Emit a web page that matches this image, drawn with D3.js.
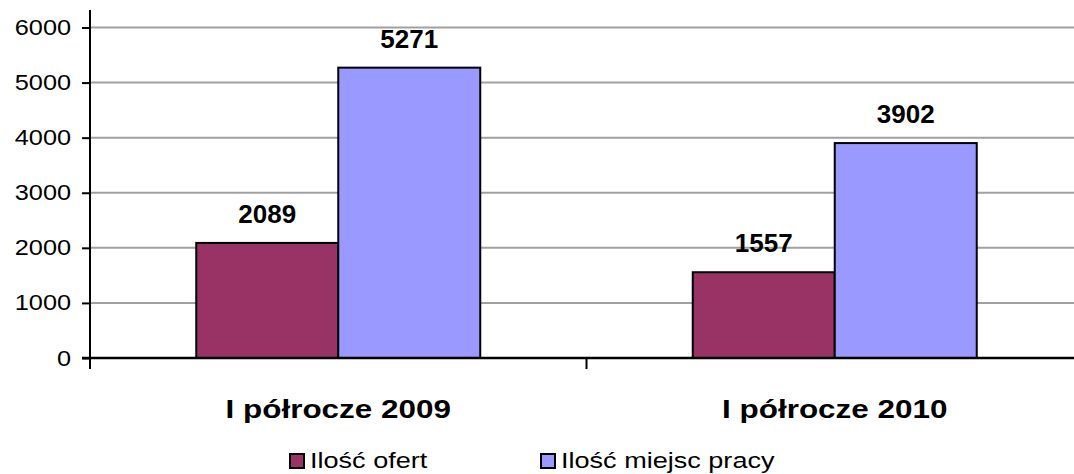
<!DOCTYPE html>
<html><head><meta charset="utf-8">
<script src="https://cdn.jsdelivr.net/npm/d3@7"></script>
<style>
html,body{margin:0;padding:0;background:#fff;overflow:hidden}
text{font-family:"Liberation Sans",Arial,sans-serif;fill:#000}
</style></head>
<body><svg id="c" width="1074" height="474"></svg>
<script>
const categories = ["I półrocze 2009", "I półrocze 2010"];
const seriesNames = ["Ilość ofert", "Ilość miejsc pracy"];
const ofertValues = [2089, 1557];
const miejscValues = [5271, 3902];
const yTicks = [0, 1000, 2000, 3000, 4000, 5000, 6000];
const colors = ["#993366", "#9999FF"];

const svg = d3.select("#c");
const x0 = 90, x1 = 1083, yTop = 27.5, yBot = 358;
const y = d3.scaleLinear().domain([0, 6000]).range([yBot, yTop]);
const xb = d3.scaleBand().domain(categories).range([x0, x1]).paddingInner(0.428).paddingOuter(0.214);
const xs = d3.scaleBand().domain(seriesNames).range([0, xb.bandwidth()]);

// gridlines
svg.append("g").selectAll("line").data(yTicks.filter(d => d > 0)).join("line")
  .attr("x1", x0).attr("x2", 1074).attr("y1", d => y(d)).attr("y2", d => y(d))
  .attr("stroke", "#a0a0a0").attr("stroke-width", 2);

// y axis
const tickSX = 1.15;
const yAxis = d3.axisLeft(y).tickValues(yTicks).tickSize(8).tickPadding(11).tickFormat(d3.format("d"));
const ga = svg.append("g").attr("transform", `translate(${x0},0)`).call(yAxis);
ga.select(".domain").remove();
ga.selectAll(".tick line").attr("stroke", "#000").attr("stroke-width", 2);
ga.selectAll(".tick text").attr("font-size", 22).attr("font-family", "Liberation Sans, Arial, sans-serif").attr("fill", "#000")
  .attr("x", -19 / tickSX).attr("transform", `scale(${tickSX},1)`);
svg.append("line").attr("x1", x0).attr("x2", x0).attr("y1", 10).attr("y2", 369).attr("stroke", "#000").attr("stroke-width", 2);

// bars
const data = categories.map((c, i) => ({c, vals: [ofertValues[i], miejscValues[i]]}));
const groups = svg.append("g").selectAll("g").data(data).join("g")
  .attr("transform", d => `translate(${xb(d.c)},0)`);
groups.selectAll("rect").data(d => d.vals.map((v, j) => ({v, s: seriesNames[j], j}))).join("rect")
  .attr("x", d => xs(d.s)).attr("width", xs.bandwidth())
  .attr("y", d => y(d.v)).attr("height", d => y(0) - y(d.v))
  .attr("fill", d => colors[d.j]).attr("stroke", "#000").attr("stroke-width", 2);
groups.selectAll("text").data(d => d.vals.map((v, j) => ({v, s: seriesNames[j], j}))).join("text")
  .attr("x", d => xs(d.s) + xs.bandwidth() / 2).attr("y", d => y(d.v) - 20)
  .attr("text-anchor", "middle").attr("font-size", 26).attr("font-weight", "bold").text(d => d.v);

// x axis
svg.append("line").attr("x1", 82).attr("x2", 1074).attr("y1", yBot).attr("y2", yBot).attr("stroke", "#000").attr("stroke-width", 2.5);
const bounds = [x0, (xb(categories[0]) + xb.bandwidth() + xb(categories[1])) / 2];
svg.append("g").selectAll("line").data(bounds).join("line")
  .attr("x1", d => d).attr("x2", d => d).attr("y1", yBot).attr("y2", 369).attr("stroke", "#000").attr("stroke-width", 2);

// category labels
svg.append("g").selectAll("text").data(categories).join("text")
  .attr("transform", d => `translate(${xb(d) + xb.bandwidth() / 2},418) scale(1.21,1)`)
  .attr("text-anchor", "middle").attr("font-size", 26).attr("font-weight", "bold").text(d => d);

// legend
const legX = [289, 540];
const lg = svg.append("g").selectAll("g").data(seriesNames).join("g")
  .attr("transform", (d, i) => `translate(${legX[i]},0)`);
lg.append("rect").attr("x", 1).attr("y", 454).attr("width", 14).attr("height", 14)
  .attr("fill", (d, i) => colors[i]).attr("stroke", "#000").attr("stroke-width", 2);
lg.append("text").attr("transform", "translate(21,468) scale(1.23,1)").attr("font-size", 22).text(d => d);
</script></body></html>
